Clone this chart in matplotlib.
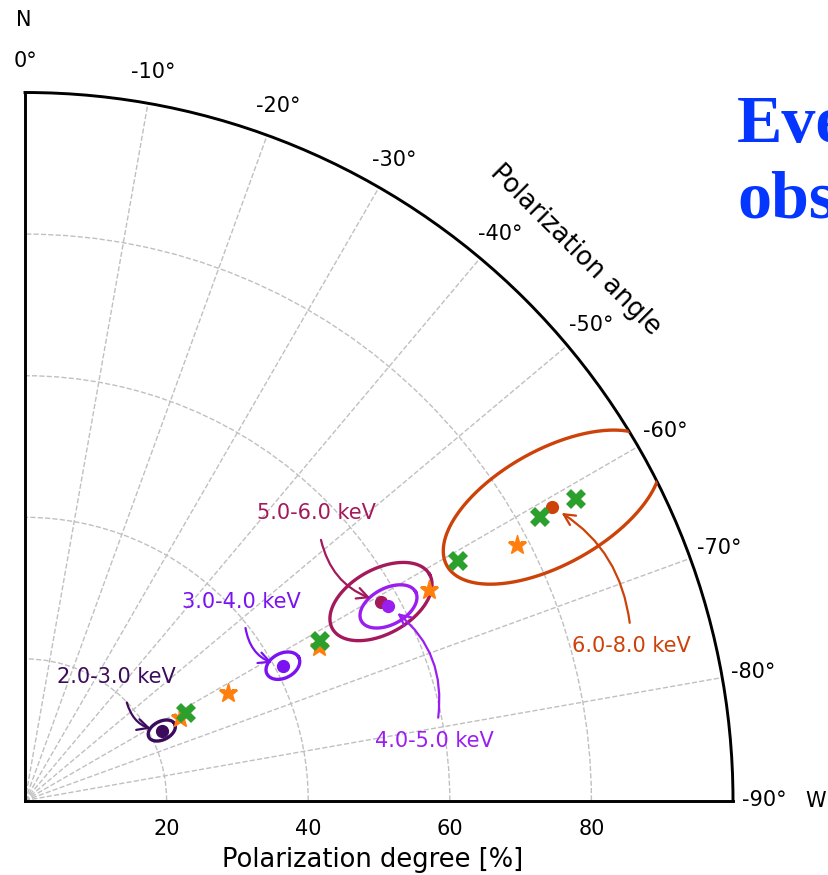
import numpy as np
import matplotlib
matplotlib.use('Agg')
import matplotlib.pyplot as plt

# ---------------- data ----------------
energy_bins = ['2.0-3.0 keV', '3.0-4.0 keV', '4.0-5.0 keV', '5.0-6.0 keV', '6.0-8.0 keV']
pd_meas = [21.7, 41.1, 58.2, 57.6, 85.2]          # polarization degree [%]
pa_meas = [-62.9, -62.4, -61.9, -60.8, -60.9]     # polarization angle [deg]
err_radial = [2.05, 2.53, 4.35, 7.86, 17.0]       # contour semi-axis along PD [%]
err_tangential = [1.3, 1.74, 2.57, 4.56, 8.1]     # contour semi-axis across PD [%]
bin_colors = ['#3d0b5c', '#7b12f2', '#9b1ef0', '#a3195b', '#cc4208']

model_x_pd = [25.9, 47.3, 69.9, 83.0, 88.8]
model_x_pa = [-61.5, -61.6, -61.1, -61.2, -61.3]
model_star_pd = [24.8, 32.4, 46.9, 64.4, 78.3]
model_star_pa = [-61.8, -62.1, -62.4, -62.5, -62.5]

r_ticks = [20, 40, 60, 80]
theta_ticks = [0, -10, -20, -30, -40, -50, -60, -70, -80, -90]
theta_tick_labels = ['0°', '-10°', '-20°', '-30°', '-40°', '-50°', '-60°', '-70°', '-80°', '-90°']

# annotation layout (offset points): text position, arrow start, curvature
label_text_off = [(-32.4, 38.2), (-30.2, 46.1), (32.9, -96.7), (-46.8, 63.9), (57.2, -100.1)]
label_arrow_off = [(-25.2, 20.2), (-26.9, 27.1), (35.8, -80.1), (-43.2, 44.4), (55.9, -83.3)]
label_rad = [0.35, 0.35, 0.3, 0.3, 0.25]
draw_order = [0, 1, 3, 2, 4]

# ---------------- figure ----------------
W, H = 829, 875
fig = plt.figure(figsize=(W / 100, H / 100), dpi=100)
ax = fig.add_axes([25 / W, 74 / H, 708 / W, 709 / H], projection='polar')
ax.set_theta_zero_location('N')
ax.set_theta_direction(1)
ax.set_thetamin(-90)
ax.set_thetamax(0)
ax.set_rlim(0, 100)
ax.set_rticks(r_ticks)
ax.set_thetagrids(theta_ticks, labels=theta_tick_labels, fontsize=15)
ax.tick_params(axis='x', pad=12)
ax.tick_params(axis='y', labelsize=15, pad=10)
ax.grid(True, ls='--', color='#c0c0c0', lw=1.0)
for sp in ax.spines.values():
    sp.set_linewidth(2.1)
    sp.set_color('black')

t = np.linspace(0, 2 * np.pi, 400)
for i in draw_order:
    th0 = np.deg2rad(pa_meas[i])
    r0 = pd_meas[i]
    cx, cy = r0 * np.cos(th0), r0 * np.sin(th0)
    ur = np.array([np.cos(th0), np.sin(th0)])
    ut = np.array([-np.sin(th0), np.cos(th0)])
    ex = cx + err_radial[i] * np.cos(t) * ur[0] + err_tangential[i] * np.sin(t) * ut[0]
    ey = cy + err_radial[i] * np.cos(t) * ur[1] + err_tangential[i] * np.sin(t) * ut[1]
    ax.plot(np.arctan2(ey, ex), np.hypot(ex, ey), color=bin_colors[i], lw=2.4, zorder=3)

for i in draw_order:
    ax.plot(np.deg2rad(pa_meas[i]), pd_meas[i], 'o', color=bin_colors[i], ms=8.5, zorder=4)

ax.plot(np.deg2rad(model_star_pa), model_star_pd, '*', ls='none', color='#ff7f0e', ms=14, zorder=5)
ax.plot(np.deg2rad(model_x_pa), model_x_pd, 'X', ls='none', color='#2ca02c', ms=14, mew=0, zorder=6)

for i in range(len(energy_bins)):
    xy = (np.deg2rad(pa_meas[i]), pd_meas[i])
    ax.annotate('', xy=xy, xycoords='data', xytext=label_arrow_off[i], textcoords='offset points',
                arrowprops=dict(arrowstyle='->', color=bin_colors[i], lw=1.6, shrinkA=0, shrinkB=8,
                                mutation_scale=20,
                                connectionstyle=f'arc3,rad={label_rad[i]}'), zorder=7)
    ax.annotate(energy_bins[i], xy=xy, xycoords='data', xytext=label_text_off[i],
                textcoords='offset points', ha='center', va='center', fontsize=15,
                color=bin_colors[i], zorder=7)

ax.text(np.deg2rad(-45), 110, 'Polarization angle', rotation=-45, ha='center', va='center',
        fontsize=18.5, rotation_mode='anchor')
fig.text(373 / W, 1 - 860 / H, 'Polarization degree [%]', ha='center', va='center', fontsize=18.5)
fig.text(24 / W, 1 - 20 / H, 'N', ha='center', va='center', fontsize=15)
fig.text(816 / W, 1 - 801 / H, 'W', ha='center', va='center', fontsize=15)

fig.text(737 / W, 1 - 142 / H, 'Eve', ha='left', va='baseline', fontsize=49, fontweight='bold',
         family='Liberation Serif', color='#0536ff')
fig.text(737 / W, 1 - 218 / H, 'obs', ha='left', va='baseline', fontsize=49, fontweight='bold',
         family='Liberation Serif', color='#0536ff')

fig.savefig('out.png', dpi=100)
